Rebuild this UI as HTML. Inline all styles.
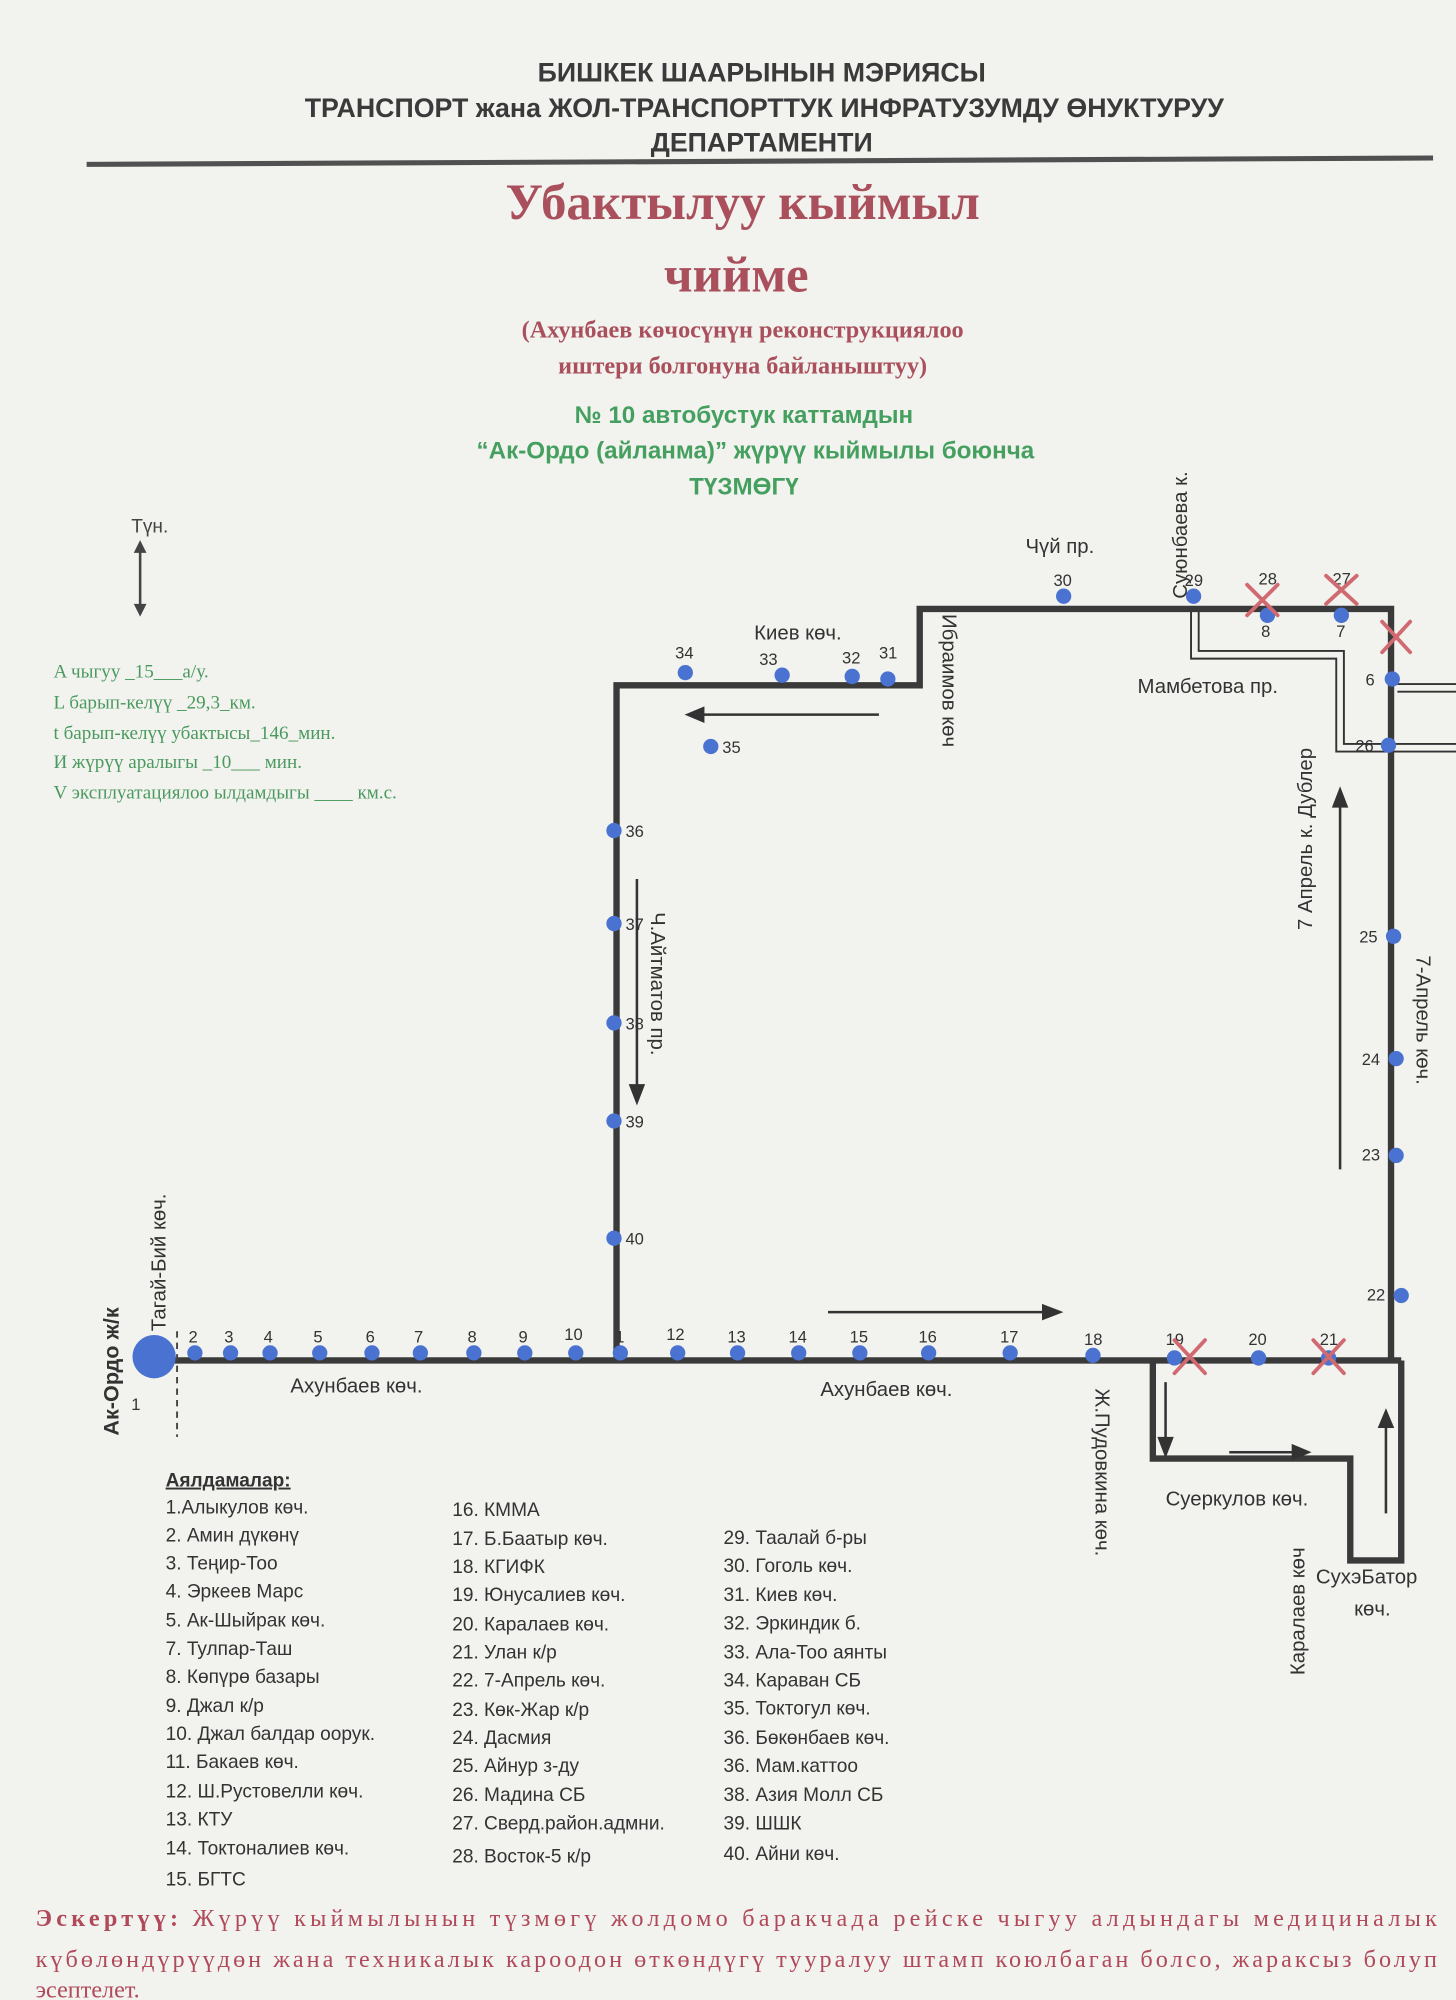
<!DOCTYPE html>
<html><head><meta charset="utf-8"><style>
html,body{margin:0;padding:0;background:#f2f2ef;}
svg{display:block}
.n{font-family:"Liberation Sans Narrow","Liberation Sans",sans-serif}
.s{font-family:"Liberation Sans",sans-serif}
.r{font-family:"Liberation Serif",serif}
</style></head><body>
<svg width="1456" height="2000" viewBox="0 0 1143 1570" xmlns="http://www.w3.org/2000/svg">
<rect width="1143" height="1570" fill="#f2f2ef"/>
<g class="n" fill="#3a3a3a" font-size="21" font-weight="bold" text-anchor="middle">
<text x="598" y="64">БИШКЕК ШААРЫНЫН МЭРИЯСЫ</text>
<text x="600" y="92">ТРАНСПОРТ жана ЖОЛ-ТРАНСПОРТТУК ИНФРАТУЗУМДУ ӨНУКТУРУУ</text>
<text x="598" y="119">ДЕПАРТАМЕНТИ</text>
</g>
<line x1="68" y1="129" x2="1125" y2="124" stroke="#505050" stroke-width="4"/>
<g class="r" fill="#a9505c" font-weight="bold" text-anchor="middle">
<text x="583" y="172" font-size="40">Убактылуу кыймыл</text>
<text x="578" y="229" font-size="40">чийме</text>
<text x="583" y="265" font-size="19">(Ахунбаев көчосүнүн реконструкциялоо</text>
<text x="583" y="293" font-size="19">иштери болгонуна байланыштуу)</text>
</g>
<g class="s" fill="#45a060" font-weight="bold" text-anchor="middle" font-size="19">
<text x="584" y="332">№ 10  автобустук каттамдын</text>
<text x="593" y="360">“Ак-Ордо (айланма)” жүрүү кыймылы боюнча</text>
<text x="584" y="388">ТҮЗМӨГҮ</text>
</g>
<text x="103" y="418" class="s" font-size="15" fill="#444">Түн.</text>
<line x1="110" y1="432" x2="110" y2="476" stroke="#444" stroke-width="2"/>
<path d="M105 434 L110 424 L115 434Z M105 474 L110 484 L115 474Z" fill="#444"/>
<g class="r" fill="#4a9a5e" font-size="15">
<text x="42" y="532">A чыгуу   _15___а/у.</text>
<text x="42" y="556">L барып-келүү   _29,3_км.</text>
<text x="42" y="580">t барып-келүү убактысы_146_мин.</text>
<text x="42" y="603">И жүрүү аралыгы  _10___     мин.</text>
<text x="42" y="627">V эксплуатациялоо ылдамдыгы ____ км.с.</text>
</g>
<g fill="none" stroke="#333" stroke-width="1.5">
<path d="M935 478 V517 H1049 V590 H1143"/>
<path d="M941 478 V511 H1055 V584 H1143"/>
<path d="M1097 537 H1143 M1097 543 H1143"/>
</g>
<g fill="none" stroke="#3a3a3a" stroke-width="5" stroke-linejoin="miter">
<path d="M122 1068 H1100"/>
<path d="M484 1070 V538 H722 V478 H1092 V1068"/>
<path d="M905 1068 V1145 H1060 V1225 H1100 V1068"/>
</g>
<line x1="139" y1="1045" x2="139" y2="1128" stroke="#444" stroke-width="1.5" stroke-dasharray="5,4"/>
<g stroke="#333" stroke-width="2" fill="#333">
<line x1="690" y1="561" x2="548" y2="561"/><path d="M540 561 L552 556 L552 566Z"/>
<line x1="500" y1="690" x2="500" y2="855"/><path d="M500 865 L495 852 L505 852Z"/>
<line x1="650" y1="1030" x2="822" y2="1030"/><path d="M832 1030 L819 1025 L819 1035Z"/>
<line x1="1052" y1="918" x2="1052" y2="630"/><path d="M1052 620 L1047 633 L1057 633Z"/>
<line x1="915" y1="1085" x2="915" y2="1132"/><path d="M915 1142 L910 1129 L920 1129Z"/>
<line x1="965" y1="1140" x2="1018" y2="1140"/><path d="M1027 1140 L1015 1135 L1015 1145Z"/>
<line x1="1088" y1="1188" x2="1088" y2="1118"/><path d="M1088 1108 L1083 1120 L1093 1120Z"/>
</g>
<g fill="#4a72d0">
<circle cx="121" cy="1065" r="17"/>
<circle cx="153" cy="1062" r="6"/><circle cx="181" cy="1062" r="6"/><circle cx="212" cy="1062" r="6"/><circle cx="251" cy="1062" r="6"/><circle cx="292" cy="1062" r="6"/><circle cx="330" cy="1062" r="6"/><circle cx="372" cy="1062" r="6"/><circle cx="412" cy="1062" r="6"/><circle cx="452" cy="1062" r="6"/><circle cx="487" cy="1062" r="6"/><circle cx="532" cy="1062" r="6"/><circle cx="579" cy="1062" r="6"/><circle cx="627" cy="1062" r="6"/><circle cx="675" cy="1062" r="6"/><circle cx="729" cy="1062" r="6"/><circle cx="793" cy="1062" r="6"/><circle cx="858" cy="1064" r="6"/><circle cx="922" cy="1066" r="6"/><circle cx="988" cy="1066" r="6"/><circle cx="1043" cy="1066" r="6"/>
<circle cx="1100" cy="1017" r="6"/><circle cx="1096" cy="907" r="6"/><circle cx="1096" cy="831" r="6"/><circle cx="1094" cy="735" r="6"/><circle cx="1090" cy="585" r="6"/><circle cx="1093" cy="533" r="6"/>
<circle cx="1053" cy="483" r="6"/><circle cx="995" cy="483" r="6"/><circle cx="937" cy="468" r="6"/><circle cx="835" cy="468" r="6"/>
<circle cx="697" cy="533" r="6"/><circle cx="669" cy="531" r="6"/><circle cx="614" cy="530" r="6"/><circle cx="538" cy="528" r="6"/><circle cx="558" cy="586" r="6"/>
<circle cx="482" cy="652" r="6"/><circle cx="482" cy="725" r="6"/><circle cx="482" cy="803" r="6"/><circle cx="482" cy="880" r="6"/><circle cx="482" cy="972" r="6"/>
</g>
<g class="s" font-size="13" fill="#333">
<text x="148" y="1054">2</text><text x="176" y="1054">3</text><text x="207" y="1054">4</text><text x="246" y="1054">5</text><text x="287" y="1054">6</text><text x="325" y="1054">7</text><text x="367" y="1054">8</text><text x="407" y="1054">9</text><text x="443" y="1052">10</text><text x="483" y="1054">1</text><text x="523" y="1052">12</text><text x="571" y="1054">13</text><text x="619" y="1054">14</text><text x="667" y="1054">15</text><text x="721" y="1054">16</text><text x="785" y="1054">17</text><text x="851" y="1056">18</text><text x="915" y="1056">19</text><text x="980" y="1056">20</text><text x="1036" y="1056">21</text>
<text x="1073" y="1021">22</text><text x="1069" y="911">23</text><text x="1069" y="836">24</text><text x="1067" y="740">25</text><text x="1064" y="590">26</text><text x="1072" y="538">6</text>
<text x="1046" y="459">27</text><text x="988" y="459">28</text><text x="990" y="500">8</text><text x="1049" y="500">7</text><text x="930" y="460">29</text><text x="827" y="460">30</text>
<text x="690" y="517">31</text><text x="661" y="521">32</text><text x="596" y="522">33</text><text x="530" y="517">34</text><text x="567" y="591">35</text>
<text x="491" y="657">36</text><text x="491" y="730">37</text><text x="491" y="808">38</text><text x="491" y="885">39</text><text x="491" y="977">40</text>
<text x="103" y="1107">1</text>
</g>
<g stroke="#d06a70" stroke-width="3" stroke-linecap="round">
<path d="M979 459 L1003 483 M1003 459 L979 483"/>
<path d="M1041 452 L1065 474 M1065 452 L1041 474"/>
<path d="M1085 488 L1107 512 M1107 488 L1085 512"/>
<path d="M922 1052 L946 1078 M946 1052 L922 1078"/>
<path d="M1031 1052 L1055 1078 M1055 1052 L1031 1078"/>
</g>
<g class="s" font-size="16" fill="#333">
<text x="805" y="434">Чүй пр.</text>
<text x="592" y="502">Киев көч.</text>
<text x="893" y="544">Мамбетова пр.</text>
<text x="228" y="1093">Ахунбаев  көч.</text>
<text x="644" y="1096">Ахунбаев көч.</text>
<text x="915" y="1182">Суеркулов көч.</text>
<text x="1033" y="1243">СухэБатор</text>
<text x="1063" y="1268">көч.</text>
<text transform="translate(932,470) rotate(-90)">Суюнбаева к.</text>
<text transform="translate(740,482) rotate(90)">Ибраимов көч</text>
<text transform="translate(1030,730) rotate(-90)">7 Апрель к. Дублер</text>
<text transform="translate(1112,750) rotate(90)">7-Апрель көч.</text>
<text transform="translate(511,716) rotate(90)">Ч.Айтматов пр.</text>
<text transform="translate(130,1045) rotate(-90)">Тагай-Бий көч.</text>
<text transform="translate(860,1090) rotate(90)">Ж.Пудовкина көч.</text>
<text transform="translate(1024,1315) rotate(-90)">Каралаев көч</text>
<text transform="translate(93,1127) rotate(-90)" font-weight="bold" font-size="17">Ак-Ордо ж/к</text>
</g>
<g class="n" font-size="15" fill="#333">
<text x="130" y="1167" font-weight="bold" text-decoration="underline">Аялдамалар:</text>
<text x="130" y="1188">1.Алыкулов көч.</text><text x="130" y="1210">2. Амин дүкөнү</text><text x="130" y="1232">3. Теңир-Тоо</text><text x="130" y="1254">4. Эркеев Марс</text><text x="130" y="1277">5. Ак-Шыйрак көч.</text><text x="130" y="1299">7. Тулпар-Таш</text><text x="130" y="1321">8. Көпүрө базары</text><text x="130" y="1344">9. Джал к/р</text><text x="130" y="1366">10. Джал балдар оорук.</text><text x="130" y="1388">11. Бакаев көч.</text><text x="130" y="1411">12. Ш.Рустовелли көч.</text><text x="130" y="1433">13. КТУ</text><text x="130" y="1456">14. Токтоналиев көч.</text><text x="130" y="1480">15. БГТС</text>
<text x="355" y="1190">16. КММА</text><text x="355" y="1213">17. Б.Баатыр көч.</text><text x="355" y="1235">18. КГИФК</text><text x="355" y="1257">19. Юнусалиев көч.</text><text x="355" y="1280">20. Каралаев көч.</text><text x="355" y="1302">21. Улан к/р</text><text x="355" y="1324">22. 7-Апрель көч.</text><text x="355" y="1347">23. Көк-Жар к/р</text><text x="355" y="1369">24. Дасмия</text><text x="355" y="1391">25. Айнур з-ду</text><text x="355" y="1414">26. Мадина СБ</text><text x="355" y="1436">27. Сверд.район.адмни.</text><text x="355" y="1462">28. Восток-5 к/р</text>
<text x="568" y="1212">29. Таалай б-ры</text><text x="568" y="1234">30. Гоголь көч.</text><text x="568" y="1257">31. Киев көч.</text><text x="568" y="1279">32. Эркиндик б.</text><text x="568" y="1302">33. Ала-Тоо аянты</text><text x="568" y="1324">34. Караван СБ</text><text x="568" y="1346">35. Токтогул көч.</text><text x="568" y="1369">36. Бөкөнбаев көч.</text><text x="568" y="1391">36. Мам.каттоо</text><text x="568" y="1414">38. Азия Молл СБ</text><text x="568" y="1436">39. ШШК</text><text x="568" y="1460">40. Айни көч.</text>
</g>
<g class="r" font-size="19" fill="#b04a5a">
<text x="28" y="1512" textLength="1100" lengthAdjust="spacing"><tspan font-weight="bold">Эскертүү:</tspan> Жүрүү кыймылынын түзмөгү жолдомо баракчада рейске чыгуу алдындагы медициналык</text>
<text x="28" y="1544" textLength="1100" lengthAdjust="spacing">күбөлөндүрүүдөн жана техникалык кароодон өткөндүгү тууралуу штамп коюлбаган болсо, жараксыз болуп</text>
<text x="28" y="1568">эсептелет.</text>
</g>
</svg>
</body></html>
